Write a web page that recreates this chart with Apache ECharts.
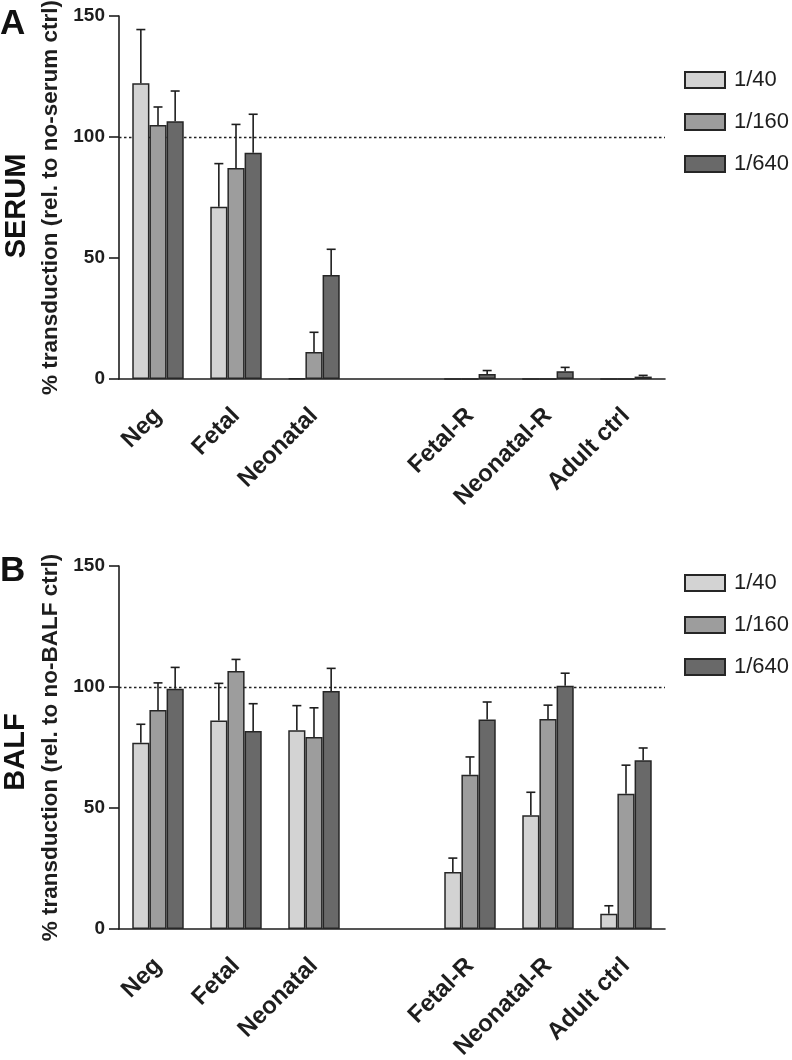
<!DOCTYPE html>
<html>
<head>
<meta charset="utf-8">
<script src="https://cdn.jsdelivr.net/npm/echarts@6/dist/echarts.min.js"></script>
<style>
html,body{margin:0;padding:0;background:#fff;}
#chart{width:792px;height:1060px;}
</style>
</head>
<body>
<div id="chart"></div>
<script>
// ---- data ----
var categories = ['Neg', 'Fetal', 'Neonatal', '', 'Fetal-R', 'Neonatal-R', 'Adult ctrl'];
var dilutions = ['1/40', '1/160', '1/640'];
var yTicks = [0, 50, 100, 150];

// Panel A: SERUM (mean, upper SD)
var serum40 = [122.2, 71.2, 0.3, null, 0, 0, 0];
var serum40Err = [22.2, 17.8, null, null, null, null, null];
var serum160 = [105.0, 87.2, 11.2, null, 0, 0, 0];
var serum160Err = [7.4, 18.0, 8.1, null, null, null, null];
var serum640 = [106.5, 93.5, 43.0, null, 2.1, 3.2, 1.0];
var serum640Err = [12.5, 15.9, 10.6, null, 1.4, 1.6, 0.5];

// Panel B: BALF (mean, upper SD)
var balf40 = [77.0, 86.2, 82.1, null, 23.6, 47.0, 6.3];
var balf40Err = [7.6, 15.3, 10.2, null, 5.7, 9.5, 3.3];
var balf160 = [90.5, 106.6, 79.3, null, 63.7, 86.8, 55.9];
var balf160Err = [11.2, 4.8, 12.1, null, 7.4, 5.7, 11.8];
var balf640 = [99.3, 81.8, 98.3, null, 86.6, 100.5, 69.7];
var balf640Err = [8.8, 11.3, 9.4, null, 7.2, 5.2, 5.1];

var referenceLine = 100;

// ---- styling ----
var FONT = 'Liberation Sans, Arial, Helvetica, sans-serif';
var INK = '#1e1e1e';
var barColors = ['#d3d3d3', '#9d9d9d', '#696969'];
var CAT_GAP = 0.34;

var chart = echarts.init(document.getElementById('chart'), null, {renderer: 'canvas'});

function makeAxes(gridIndex, yName) {
  var x = {
    type: 'category', gridIndex: gridIndex, data: categories,
    axisLine: {lineStyle: {color: INK, width: 1.6}},
    axisTick: {alignWithLabel: true, interval: 0, length: 10, lineStyle: {color: INK, width: 1.6}},
    axisLabel: {interval: 0, rotate: 45, margin: 33, color: INK, fontFamily: FONT, fontWeight: 'bold', fontSize: 24},
    splitLine: {show: false}
  };
  var y = {
    type: 'value', gridIndex: gridIndex, min: yTicks[0], max: yTicks[yTicks.length - 1], interval: 50,
    name: yName, nameLocation: 'middle', nameGap: 55, nameRotate: 90,
    nameTextStyle: {color: INK, fontFamily: FONT, fontWeight: 'bold', fontSize: 22.5},
    axisLine: {show: true, lineStyle: {color: INK, width: 1.6}},
    axisTick: {show: true, length: 10, lineStyle: {color: INK, width: 1.6}},
    axisLabel: {margin: 14, color: INK, fontFamily: FONT, fontWeight: 'bold', fontSize: 19},
    splitLine: {show: false}
  };
  return {x: x, y: y};
}

var axA = makeAxes(0, '% transduction (rel. to no-serum ctrl)');
var axB = makeAxes(1, '% transduction (rel. to no-BALF ctrl)');

function barSeries(name, idx, values, gridIndex, withLine) {
  var s = {
    name: name, type: 'bar', xAxisIndex: gridIndex, yAxisIndex: gridIndex,
    data: values, barGap: '0%', barCategoryGap: (CAT_GAP * 100) + '%',
    itemStyle: {color: barColors[idx], borderColor: '#262626', borderWidth: 1.5},
    emphasis: {disabled: true}, z: 2
  };
  if (withLine) {
    s.markLine = {
      z: 1, silent: true, symbol: ['none', 'none'], label: {show: false},
      lineStyle: {color: '#222', width: 1.3, type: [2.5, 2.5]},
      data: [{yAxis: referenceLine}]
    };
  }
  return s;
}

function errSeries(idx, values, errs, gridIndex) {
  var data = [];
  for (var i = 0; i < values.length; i++) {
    if (values[i] != null && errs[i] != null) data.push([i, values[i], values[i] + errs[i]]);
  }
  return {
    type: 'custom', xAxisIndex: gridIndex, yAxisIndex: gridIndex, z: 3, silent: true,
    data: data,
    renderItem: function (params, api) {
      var band = api.size([1, 0])[0];
      var barW = band * (1 - CAT_GAP) / 3;
      var off = (idx - 1) * barW;
      var p0 = api.coord([api.value(0), api.value(1)]);
      var p1 = api.coord([api.value(0), api.value(2)]);
      var cx = p0[0] + off;
      var cap = 4.5;
      var st = {stroke: '#1e1e1e', lineWidth: 1.6};
      return {
        type: 'group', children: [
          {type: 'line', shape: {x1: cx, y1: p0[1], x2: cx, y2: p1[1]}, style: st},
          {type: 'line', shape: {x1: cx - cap, y1: p1[1], x2: cx + cap, y2: p1[1]}, style: st}
        ]
      };
    }
  };
}

function legend(top) {
  return {
    orient: 'vertical', left: 684, top: top, padding: 0,
    itemWidth: 40, itemHeight: 16, itemGap: 20, icon: 'rect',
    data: dilutions,
    textStyle: {color: INK, fontFamily: FONT, fontSize: 22, padding: [0, 0, 0, 4]}
  };
}

var option = {
  animation: false,
  backgroundColor: '#fff',
  grid: [
    {left: 119, top: 16, width: 546, height: 363, containLabel: false, outerBoundsMode: 'none'},
    {left: 119, top: 566, width: 546, height: 363, containLabel: false, outerBoundsMode: 'none'}
  ],
  xAxis: [axA.x, axB.x],
  yAxis: [axA.y, axB.y],
  legend: [legend(69), legend(572)],
  graphic: [
    {type: 'text', left: 0, top: 7, style: {text: 'A', font: 'bold 35px ' + FONT, fill: '#111'}},
    {type: 'text', left: 0, top: 554, style: {text: 'B', font: 'bold 35px ' + FONT, fill: '#111'}},
    {type: 'text', x: 17, y: 206, rotation: Math.PI / 2,
      style: {text: 'SERUM', font: 'bold 29px ' + FONT, fill: '#111', align: 'center', verticalAlign: 'middle'}},
    {type: 'text', x: 16, y: 752, rotation: Math.PI / 2,
      style: {text: 'BALF', font: 'bold 29px ' + FONT, fill: '#111', align: 'center', verticalAlign: 'middle'}}
  ],
  series: [
    barSeries(dilutions[0], 0, serum40, 0, true),
    barSeries(dilutions[1], 1, serum160, 0, false),
    barSeries(dilutions[2], 2, serum640, 0, false),
    errSeries(0, serum40, serum40Err, 0),
    errSeries(1, serum160, serum160Err, 0),
    errSeries(2, serum640, serum640Err, 0),
    barSeries(dilutions[0], 0, balf40, 1, true),
    barSeries(dilutions[1], 1, balf160, 1, false),
    barSeries(dilutions[2], 2, balf640, 1, false),
    errSeries(0, balf40, balf40Err, 1),
    errSeries(1, balf160, balf160Err, 1),
    errSeries(2, balf640, balf640Err, 1)
  ]
};
chart.setOption(option);
</script>
</body>
</html>
